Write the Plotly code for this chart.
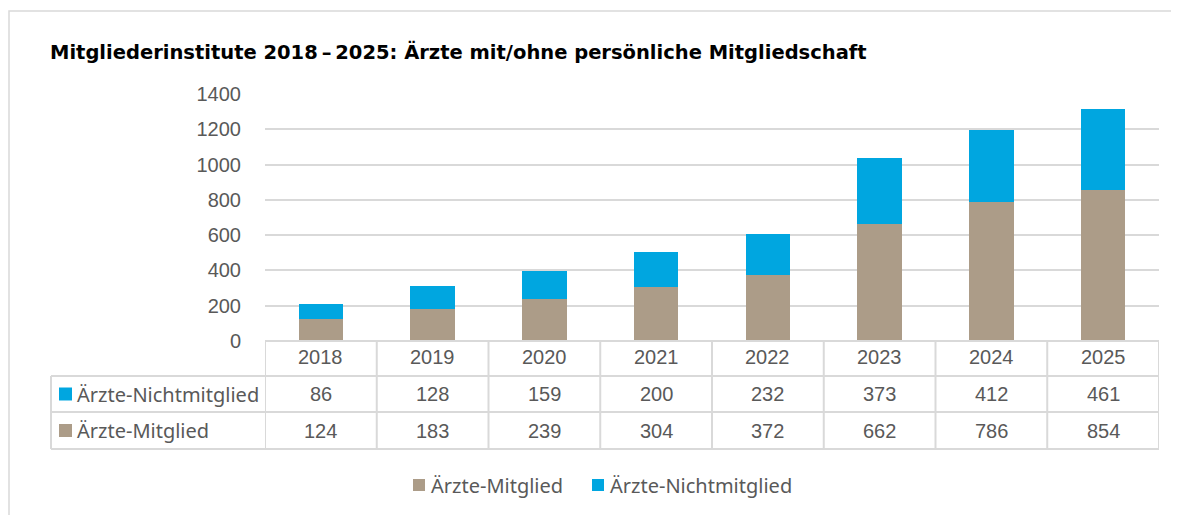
import plotly.graph_objects as go

years = ["2018", "2019", "2020", "2021", "2022", "2023", "2024", "2025"]
mitglied = [124, 183, 239, 304, 372, 662, 786, 854]
nichtmitglied = [86, 128, 159, 200, 232, 373, 412, 461]
series_names = ["Ärzte-Mitglied", "Ärzte-Nichtmitglied"]
y_ticks = [0, 200, 400, 600, 800, 1000, 1200, 1400]
title_text = "Mitgliederinstitute 2018\u2009–\u20092025: Ärzte mit/ohne persönliche Mitgliedschaft"

C_BROWN = "#AC9C88"
C_BLUE = "#00A6E0"
C_GRID = "#D9D9D9"
C_TEXT = "#595959"
NUM_FONT = "Liberation Sans"
LBL_FONT = "Noto Sans"

OFF = 8  # page body margin
W, H = 1179, 515
# plot area in page px
L, R, T, B = 265, 1159, 94, 341
pw, ph = R - L, B - T

def px_x(px):
    return (px - L) / pw

def px_y(py):
    return (B - py) / ph

fig = go.Figure()
fig.add_trace(go.Bar(x=years, y=mitglied, name=series_names[0], marker_color=C_BROWN,
                     marker_line_width=0, width=0.4, showlegend=False))
fig.add_trace(go.Bar(x=years, y=nichtmitglied, name=series_names[1], marker_color=C_BLUE,
                     marker_line_width=0, width=0.4, showlegend=False))

shapes = []
ann = []
line = dict(color=C_GRID, width=2)

row_edges = [341, 376, 412, 449]
shapes.append(dict(type="line", xref="paper", yref="paper", x0=0, x1=1,
                   y0=px_y(341), y1=px_y(341), line=line, layer="above"))
for py in row_edges[1:]:
    shapes.append(dict(type="line", xref="paper", yref="paper", x0=px_x(51), x1=1,
                       y0=px_y(py), y1=px_y(py), line=line, layer="above"))
shapes.append(dict(type="line", xref="paper", yref="paper", x0=px_x(51), x1=px_x(51),
                   y0=px_y(376), y1=px_y(449), line=line))
for i in range(len(years) + 1):
    shapes.append(dict(type="line", xref="x", yref="paper", x0=i - 0.5, x1=i - 0.5,
                       y0=px_y(341), y1=px_y(449), line=line))

rows = [(nichtmitglied, series_names[1], C_BLUE, 394), (mitglied, series_names[0], C_BROWN, 430.5)]
for i, yr in enumerate(years):
    ann.append(dict(x=i, y=px_y(357), xref="x", yref="paper", text=yr, showarrow=False,
                    yanchor="middle", font=dict(family=NUM_FONT, size=20, color=C_TEXT)))
for vals, name, col, cy in rows:
    shapes.append(dict(type="rect", xref="paper", yref="paper", x0=px_x(59), x1=px_x(72),
                       y0=px_y(cy - 6.5), y1=px_y(cy + 6.5), fillcolor=col, line=dict(width=0)))
    ann.append(dict(x=px_x(75), y=px_y(cy), xref="paper", yref="paper", text=name,
                    xanchor="left", yanchor="middle", showarrow=False,
                    font=dict(family=LBL_FONT, size=20, color=C_TEXT)))
    for i, v in enumerate(vals):
        ann.append(dict(x=i, y=px_y(cy), xref="x", yref="paper", text=str(v), showarrow=False,
                        yanchor="middle", font=dict(family=NUM_FONT, size=20, color=C_TEXT)))

# custom bottom legend
legend_items = [(series_names[0], C_BROWN, 413), (series_names[1], C_BLUE, 592)]
for name, col, x0 in legend_items:
    shapes.append(dict(type="rect", xref="paper", yref="paper", x0=px_x(x0), x1=px_x(x0 + 12),
                       y0=px_y(491), y1=px_y(479), fillcolor=col, line=dict(width=0)))
    ann.append(dict(x=px_x(x0 + 16), y=px_y(485), xref="paper", yref="paper", text=name,
                    xanchor="left", yanchor="middle", showarrow=False,
                    font=dict(family=LBL_FONT, size=20, color=C_TEXT)))

# outer border
shapes.append(dict(type="rect", xref="paper", yref="paper", x0=px_x(9), x1=px_x(1200),
                   y0=px_y(540), y1=px_y(11), line=dict(color=C_GRID, width=1.5),
                   fillcolor="rgba(0,0,0,0)", layer="below"))

fig.update_layout(
    width=W, height=H,
    margin=dict(l=L - OFF, r=W - (R - OFF), t=T - OFF, b=H - (B - OFF), autoexpand=False),
    paper_bgcolor="white", plot_bgcolor="white",
    barmode="stack",
    title=dict(text="<b>" + title_text + "</b>", xref="container", yref="container",
               x=(50 - OFF) / W, xanchor="left", y=1 - (52 - OFF) / H, yanchor="middle",
               font=dict(family="DejaVu Sans", size=19.5, color="black")),
    xaxis=dict(range=[-0.5, len(years) - 0.5], showticklabels=False, showgrid=False,
               zeroline=False, showline=False, fixedrange=True),
    yaxis=dict(range=[0, 1400], tickvals=y_ticks, showgrid=True, gridcolor=C_GRID, gridwidth=2,
               zeroline=False, showline=False, ticks="outside", ticklen=19,
               tickcolor="rgba(0,0,0,0)",
               tickfont=dict(family=NUM_FONT, size=20, color=C_TEXT)),
    shapes=shapes, annotations=ann, showlegend=False,
)

fig.write_html("out.html")
